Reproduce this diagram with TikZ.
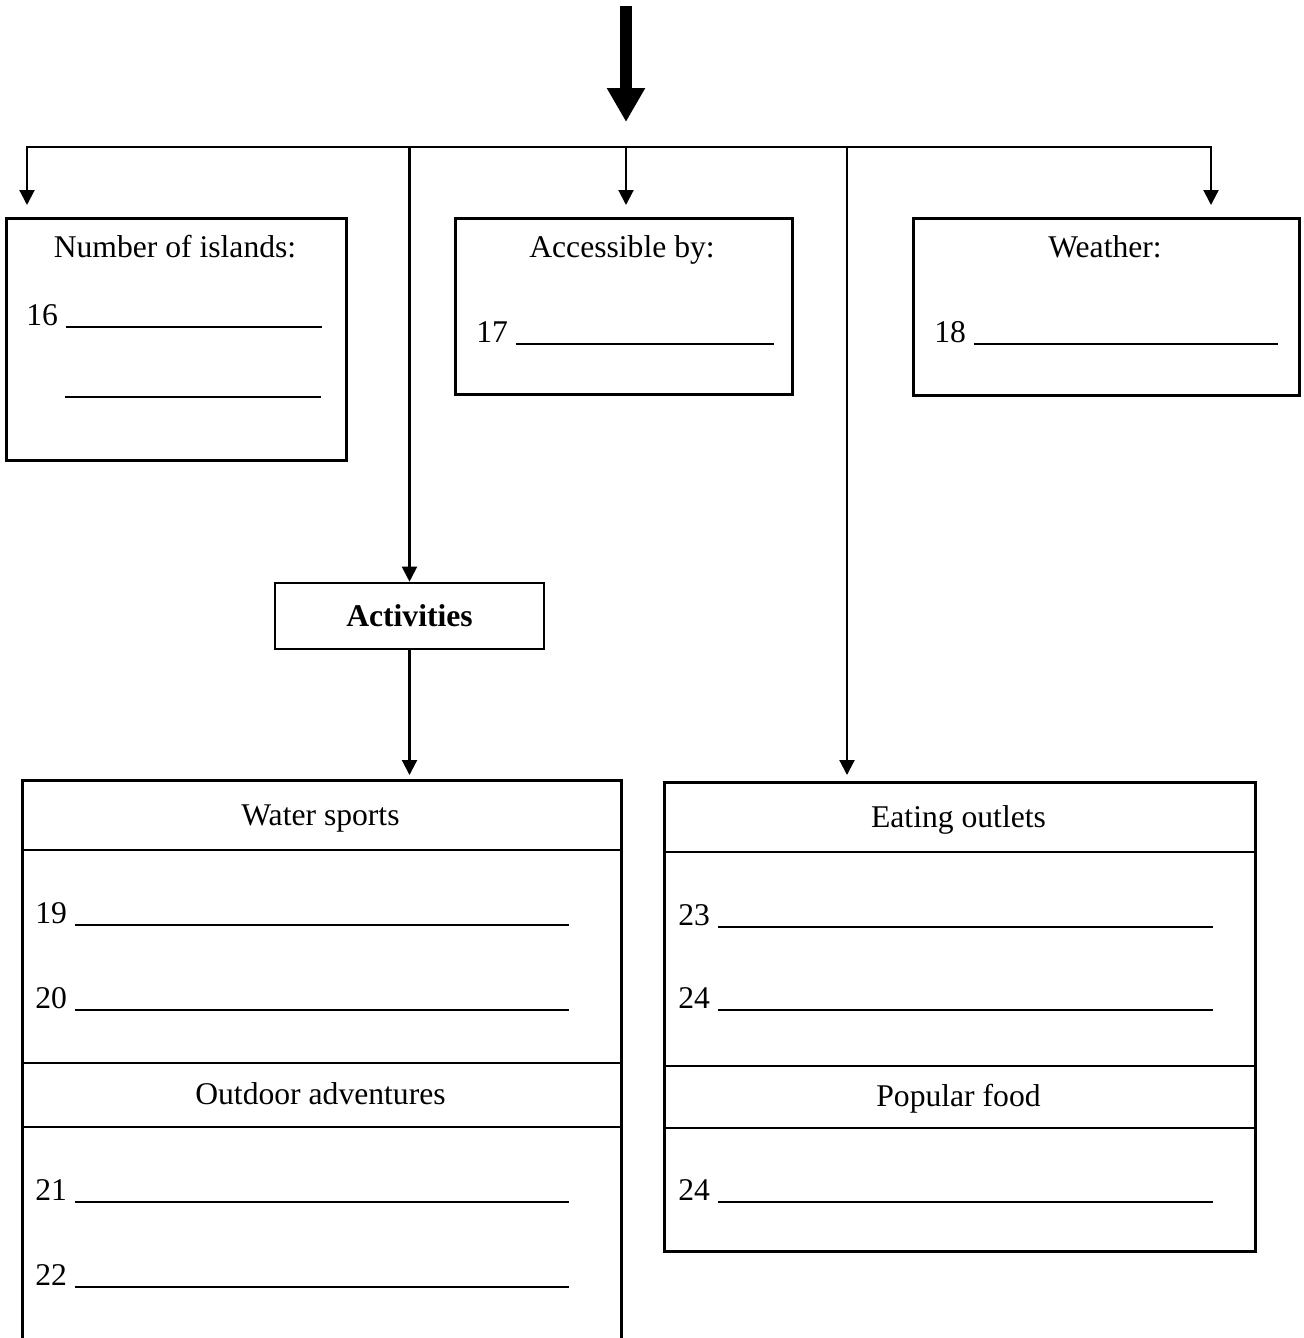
\documentclass[tikz,border=0pt]{standalone}
\usepackage{fontspec}
\setmainfont{Liberation Serif}
\usetikzlibrary{arrows.meta}
\newcommand{\blank}[1]{\rule[-1.5pt]{#1}{0.9pt}}

\begin{document}
\begin{tikzpicture}[x=0.02cm,y=-0.02cm,font=\fontsize{18}{21}\selectfont]
		\tikzstyle{cadre} = [draw,line width=1.5pt,inner sep=0pt,anchor=north west]
		\tikzstyle{trait} = [line width=1.5pt]
		\tikzstyle{fleche} = [line width=1.2pt,-{Triangle[length=0.3cm,width=0.3cm]}]
		\tikzstyle{grossefleche} = [line width=0.24cm,-{Triangle[length=0.68cm,width=0.72cm]}]
		\tikzstyle{titre} = [anchor=base,inner sep=0pt]
		\tikzstyle{ligne} = [anchor=base west,inner sep=0pt]

		\useasboundingbox (0,0) rectangle (1303,1338);

		% boites du haut
		\node[cadre,minimum width=6.8cm,minimum height=4.84cm](iles) at (5,217) {};
		\node[cadre,minimum width=6.74cm,minimum height=3.52cm](acces) at (454,217) {};
		\node[cadre,minimum width=7.72cm,minimum height=3.54cm](meteo) at (912,217) {};
		\node[cadre,anchor=center,minimum width=5.38cm,minimum height=1.32cm](activites) at (409.5,616) {\textbf{Activities}};

		% boites du bas
		\node[cadre,minimum width=11.98cm,minimum height=11.62cm](sports) at (21,779) {};
		\node[cadre,minimum width=11.82cm,minimum height=9.38cm](manger) at (663,781) {};
		\draw[trait] (sports.west |- 0,850) -- (sports.east |- 0,850);
		\draw[trait] (sports.west |- 0,1063) -- (sports.east |- 0,1063);
		\draw[trait] (sports.west |- 0,1127) -- (sports.east |- 0,1127);
		\draw[trait] (manger.west |- 0,852) -- (manger.east |- 0,852);
		\draw[trait] (manger.west |- 0,1066) -- (manger.east |- 0,1066);
		\draw[trait] (manger.west |- 0,1128) -- (manger.east |- 0,1128);

		% textes
		\node[titre](t-iles) at (175,257) {Number of islands:};
		\node[ligne](q16) at (26,325) {16 \blank{5.12cm}};
		\node[ligne](q16b) at (65,395) {\blank{5.12cm}};
		\node[titre](t-acces) at (622,257) {Accessible by:};
		\node[ligne](q17) at (476,342) {17 \blank{5.16cm}};
		\node[titre](t-meteo) at (1105,257) {Weather:};
		\node[ligne](q18) at (934,342) {18 \blank{6.08cm}};

		\node[titre](t-eau) at (320.5,825) {Water sports};
		\node[ligne](q19) at (35,923) {19 \blank{9.88cm}};
		\node[ligne](q20) at (35,1008) {20 \blank{9.88cm}};
		\node[titre](t-plein) at (320.5,1104) {Outdoor adventures};
		\node[ligne](q21) at (35,1200) {21 \blank{9.88cm}};
		\node[ligne](q22) at (35,1285) {22 \blank{9.88cm}};

		\node[titre](t-manger) at (958.5,827) {Eating outlets};
		\node[ligne](q23) at (678,925) {23 \blank{9.9cm}};
		\node[ligne](q24) at (678,1008) {24 \blank{9.9cm}};
		\node[titre](t-plat) at (958.5,1106) {Popular food};
		\node[ligne](q24c) at (678,1200) {24 \blank{9.9cm}};

		% fleches
		\coordinate (haut) at (626,6);
		\coordinate (pointe) at (626,122);
		\coordinate (centre) at (626,147);
		\coordinate (d1) at (27,205);
		\coordinate (d2) at (626,205);
		\coordinate (d3) at (1211,205);
		\coordinate (d4) at (409.5,775);
		\coordinate (d5) at (847,775);

		\draw[grossefleche] (haut) -- (pointe);
		\draw[fleche] (centre) -| (d1);
		\draw[fleche] (centre) -- (d2);
		\draw[fleche] (centre) -| (d3);
		\draw[fleche] (centre) -| (activites.north);
		\draw[fleche] (activites.south) -- (d4);
		\draw[fleche] (centre) -| (d5);
		
\end{tikzpicture}
\end{document}
